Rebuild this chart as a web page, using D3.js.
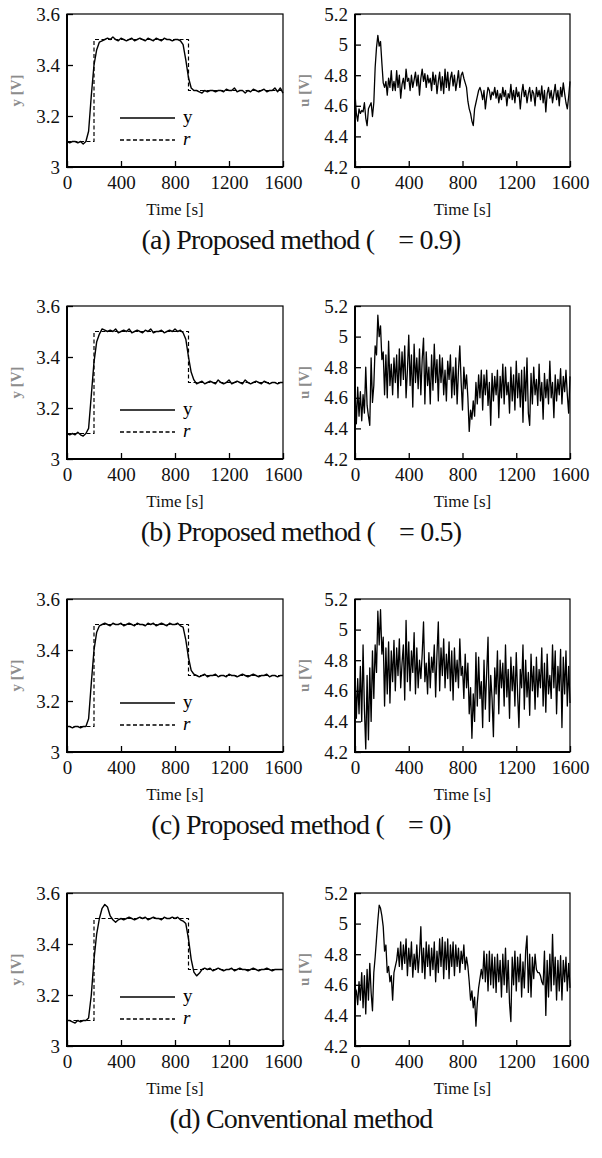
<!DOCTYPE html>
<html>
<head>
<meta charset="utf-8">
<script src="https://cdn.jsdelivr.net/npm/d3@7/dist/d3.min.js"></script>
<style>
    body { margin: 0; background: white; }
    svg { display: block; font-family: "Liberation Serif", "Times New Roman", serif; }
</style>
</head>
<body>
<div id="canvas-div"></div>
<script>
// sample times [s]
const timeY = [0,20,40,60,80,100,120,140,160,180,200,220,240,260,280,300,320,340,360,380,
    400,420,440,460,480,500,520,540,560,580,600,620,640,660,680,700,720,740,760,780,
    800,820,840,860,880,900,920,940,960,980,1000,1020,1040,1060,1080,1100,1120,1140,1160,1180,
    1200,1220,1240,1260,1280,1300,1320,1340,1360,1380,1400,1420,1440,1460,1480,1500,1520,1540,1560,1580,1600];

const timeU = [0,10,20,30,40,50,60,70,80,90,100,110,120,130,140,150,160,170,180,190,
    200,210,220,230,240,250,260,270,280,290,300,310,320,330,340,350,360,370,380,390,
    400,410,420,430,440,450,460,470,480,490,500,510,520,530,540,550,560,570,580,590,
    600,610,620,630,640,650,660,670,680,690,700,710,720,730,740,750,760,770,780,790,
    800,810,820,830,840,850,860,870,880,890,900,910,920,930,940,950,960,970,980,990,
    1000,1010,1020,1030,1040,1050,1060,1070,1080,1090,1100,1110,1120,1130,1140,1150,1160,1170,1180,1190,
    1200,1210,1220,1230,1240,1250,1260,1270,1280,1290,1300,1310,1320,1330,1340,1350,1360,1370,1380,1390,
    1400,1410,1420,1430,1440,1450,1460,1470,1480,1490,1500,1510,1520,1530,1540,1550,1560,1570,1580,1590,1600];

// reference r
const refTime = [0, 200, 200, 900, 900, 1600];
const refValue = [3.1, 3.1, 3.5, 3.5, 3.3, 3.3];

// output y [V]
const yA = [3.10,3.095,3.10,3.10,3.095,3.10,3.09,3.10,3.14,3.28,3.40,3.46,3.49,3.495,3.50,3.505,3.50,3.51,3.50,3.495,
    3.505,3.50,3.495,3.50,3.505,3.495,3.50,3.505,3.50,3.495,3.505,3.50,3.495,3.505,3.50,3.495,3.505,3.50,3.50,3.495,
    3.50,3.50,3.495,3.48,3.42,3.35,3.31,3.30,3.30,3.295,3.29,3.30,3.295,3.30,3.30,3.295,3.30,3.30,3.295,3.305,
    3.30,3.30,3.31,3.295,3.30,3.30,3.29,3.30,3.295,3.305,3.30,3.295,3.30,3.305,3.295,3.30,3.30,3.31,3.295,3.31,3.29];
const yB = [3.10,3.095,3.10,3.095,3.105,3.095,3.09,3.10,3.12,3.25,3.38,3.46,3.49,3.51,3.505,3.50,3.505,3.50,3.51,3.495,
    3.50,3.505,3.50,3.51,3.495,3.50,3.505,3.50,3.495,3.505,3.50,3.51,3.495,3.50,3.50,3.505,3.495,3.50,3.505,3.50,
    3.51,3.50,3.505,3.495,3.47,3.40,3.34,3.31,3.295,3.30,3.305,3.295,3.30,3.305,3.30,3.295,3.31,3.30,3.295,3.30,
    3.31,3.295,3.30,3.305,3.30,3.295,3.31,3.30,3.295,3.30,3.305,3.30,3.295,3.305,3.30,3.295,3.30,3.30,3.295,3.30,3.30];
const yC = [3.10,3.10,3.095,3.10,3.10,3.095,3.10,3.10,3.13,3.27,3.40,3.47,3.495,3.50,3.505,3.50,3.495,3.505,3.50,3.50,
    3.505,3.495,3.50,3.505,3.50,3.495,3.505,3.50,3.50,3.495,3.505,3.50,3.505,3.495,3.50,3.505,3.50,3.495,3.505,3.50,
    3.50,3.505,3.495,3.49,3.44,3.37,3.32,3.305,3.30,3.295,3.30,3.305,3.295,3.30,3.30,3.305,3.295,3.30,3.30,3.295,
    3.305,3.30,3.30,3.295,3.30,3.305,3.30,3.295,3.30,3.305,3.30,3.295,3.30,3.30,3.305,3.295,3.30,3.30,3.295,3.30,3.30];
const yD = [3.10,3.10,3.095,3.09,3.10,3.095,3.10,3.10,3.11,3.20,3.34,3.44,3.50,3.54,3.555,3.545,3.51,3.495,3.485,3.495,
    3.50,3.495,3.50,3.505,3.50,3.495,3.50,3.505,3.50,3.505,3.495,3.50,3.505,3.50,3.50,3.495,3.505,3.50,3.50,3.505,
    3.50,3.505,3.495,3.49,3.48,3.42,3.34,3.29,3.275,3.285,3.30,3.305,3.30,3.305,3.295,3.30,3.305,3.30,3.295,3.30,
    3.30,3.305,3.295,3.30,3.305,3.30,3.30,3.295,3.30,3.305,3.30,3.295,3.30,3.30,3.305,3.30,3.295,3.30,3.30,3.30,3.30];

// input u [V]
const uA = [4.68,4.55,4.50,4.58,4.55,4.57,4.56,4.62,4.52,4.47,4.58,4.60,4.62,4.53,4.62,4.85,4.98,5.06,4.99,5.02,
    4.88,4.75,4.72,4.76,4.67,4.78,4.72,4.83,4.70,4.76,4.70,4.83,4.72,4.80,4.65,4.74,4.78,4.71,4.84,4.76,
    4.78,4.70,4.80,4.72,4.77,4.82,4.73,4.80,4.67,4.78,4.84,4.76,4.81,4.72,4.80,4.75,4.78,4.70,4.82,4.74,
    4.80,4.68,4.76,4.82,4.70,4.79,4.68,4.84,4.72,4.82,4.70,4.78,4.82,4.73,4.80,4.70,4.76,4.83,4.72,4.80,
    4.82,4.78,4.75,4.72,4.63,4.58,4.55,4.50,4.47,4.58,4.62,4.66,4.70,4.72,4.69,4.64,4.70,4.58,4.66,4.72,
    4.70,4.64,4.69,4.67,4.72,4.65,4.70,4.62,4.68,4.64,4.72,4.66,4.70,4.60,4.68,4.65,4.74,4.64,4.70,4.62,
    4.72,4.66,4.69,4.58,4.68,4.74,4.66,4.70,4.62,4.68,4.72,4.63,4.70,4.68,4.60,4.72,4.66,4.70,4.64,4.73,
    4.62,4.70,4.56,4.68,4.72,4.65,4.70,4.62,4.68,4.74,4.64,4.70,4.60,4.72,4.66,4.75,4.68,4.62,4.58,4.66,4.76];
const uB = [4.65,4.43,4.67,4.48,4.64,4.45,4.62,4.50,4.80,4.55,4.48,4.42,4.86,4.57,4.68,4.94,4.88,5.14,5.00,5.07,
    4.85,4.90,4.62,4.88,4.60,4.97,4.68,4.82,4.62,4.86,4.70,4.88,4.60,4.92,4.68,4.90,4.72,4.94,4.60,4.78,
    5.01,4.68,4.88,4.54,4.95,4.70,4.86,4.66,4.92,4.62,4.85,4.99,4.56,4.90,4.68,4.80,4.56,4.88,4.65,4.95,
    4.70,4.85,4.58,4.88,4.70,4.86,4.62,4.78,4.58,4.84,4.72,4.88,4.60,4.80,4.62,4.86,4.56,4.78,4.94,4.70,
    4.52,4.80,4.66,4.75,4.60,4.38,4.52,4.46,4.58,4.48,4.70,4.56,4.75,4.60,4.78,4.52,4.75,4.62,4.78,4.55,
    4.70,4.42,4.76,4.58,4.74,4.62,4.78,4.47,4.74,4.60,4.82,4.56,4.80,4.62,4.70,4.50,4.80,4.58,4.75,4.52,
    4.84,4.60,4.76,4.54,4.78,4.44,4.80,4.58,4.86,4.50,4.42,4.76,4.56,4.80,4.62,4.72,4.55,4.82,4.58,4.70,
    4.46,4.76,4.60,4.72,4.56,4.84,4.60,4.70,4.47,4.75,4.58,4.72,4.62,4.79,4.56,4.74,4.64,4.78,4.62,4.50,4.74];
const uC = [4.72,4.42,4.68,4.45,4.76,4.40,4.90,4.48,4.22,4.70,4.28,4.75,4.40,4.86,4.55,4.90,4.72,5.12,4.90,5.13,
    4.84,4.95,4.50,4.88,4.58,4.92,4.52,4.86,4.66,4.93,4.60,4.88,4.70,4.94,4.62,4.78,4.90,4.54,5.06,4.66,
    4.92,4.60,4.86,4.72,4.98,4.58,4.88,4.62,4.80,4.68,4.84,5.05,4.66,4.78,4.58,4.85,4.62,4.82,4.72,4.90,
    4.56,4.84,5.05,4.60,4.88,4.70,4.94,4.62,4.84,4.68,4.92,4.60,4.86,4.54,4.88,4.66,4.80,4.62,4.94,4.70,
    4.76,4.55,4.84,4.62,4.78,4.45,4.62,4.29,4.58,4.40,4.85,4.50,4.82,4.55,4.66,4.36,4.80,4.48,4.72,4.95,
    4.40,4.70,4.55,4.30,4.75,4.58,4.86,4.45,4.80,4.62,4.78,4.50,4.90,4.56,4.74,4.42,4.82,4.60,4.76,4.50,
    4.85,4.58,4.36,4.74,4.62,4.90,4.48,4.80,4.56,4.72,4.44,4.84,4.60,4.76,4.48,4.82,4.56,4.74,4.62,4.88,
    4.50,4.78,4.46,4.84,4.58,4.70,4.55,4.90,4.62,4.86,4.45,4.76,4.60,4.87,4.36,4.82,4.58,4.86,4.50,4.76,4.52];
const uD = [4.58,4.56,4.47,4.62,4.50,4.68,4.45,4.66,4.41,4.70,4.50,4.74,4.55,4.43,4.68,4.78,4.90,5.02,5.12,5.10,
    5.05,4.98,4.82,4.86,4.68,4.72,4.62,4.66,4.50,4.68,4.72,4.76,4.84,4.72,4.88,4.70,4.86,4.74,4.90,4.66,
    4.84,4.72,4.88,4.65,4.80,4.70,4.86,4.68,4.80,4.98,4.68,4.84,4.64,4.88,4.72,4.86,4.66,4.84,4.70,4.88,
    4.62,4.82,4.68,4.90,4.72,4.91,4.64,4.88,4.70,4.90,4.64,4.86,4.72,4.88,4.66,4.86,4.72,4.84,4.68,4.82,
    4.74,4.86,4.70,4.78,4.72,4.62,4.50,4.56,4.45,4.52,4.33,4.48,4.58,4.64,4.70,4.64,4.82,4.62,4.80,4.56,
    4.82,4.60,4.80,4.58,4.78,4.55,4.80,4.62,4.76,4.52,4.80,4.60,4.84,4.55,4.76,4.48,4.36,4.78,4.60,4.82,
    4.56,4.78,4.62,4.80,4.52,4.75,4.58,4.82,4.92,4.55,4.80,4.52,4.78,4.64,4.80,4.70,4.68,4.68,4.66,4.62,
    4.60,4.82,4.40,4.76,4.52,4.80,4.56,4.93,4.60,4.78,4.50,4.76,4.56,4.79,4.50,4.76,4.62,4.78,4.56,4.74,4.58];

// axis ticks and labels
const timeTicks = [0, 400, 800, 1200, 1600];
const yTicks = [3, 3.2, 3.4, 3.6];
const uTicks = [4.2, 4.4, 4.6, 4.8, 5, 5.2];
const yDomain = [3, 3.6];
const uDomain = [4.2, 5.2];
const captionHeads = ["(a) Proposed method (", "(b) Proposed method (", "(c) Proposed method (", "(d) Conventional method"];
const captionTails = ["= 0.9)", "= 0.5)", "= 0)", ""];
const ySeries = [yA, yB, yC, yD];
const uSeries = [uA, uB, uC, uD];

const svgWidth = 602;
const svgHeight = 1158;
const panelTops = [14, 306, 599, 893];
const panelHeight = 153;
const leftBox = { x0: 67, x1: 283 };
const rightBox = { x0: 355, x1: 570 };
const serif = "Liberation Serif, Times New Roman, serif";

let svg = d3.select("#canvas-div")
    .append("svg")
    .attr("width", svgWidth)
    .attr("height", svgHeight)
    .style("background-color", "white");

function styleTicks(a) {
    a.select(".domain").remove();
    a.selectAll("line").attr("stroke-width", 1.3);
    a.selectAll("text")
        .attr("font-size", 19)
        .attr("font-family", serif)
        .attr("fill", "#111");
}

function drawPanel(top, box, domain, ticks, axisLabel, lines, withLegend) {
    const bottom = top + panelHeight;
    const xScale = d3.scaleLinear().domain([0, 1600]).range([box.x0, box.x1]);
    const yScale = d3.scaleLinear().domain(domain).range([bottom, top]);

    let g = svg.append("g");

    //x and y axis, ticks pointing inside
    const xAxis = d3.axisBottom(xScale)
        .tickValues(timeTicks)
        .tickFormat(d => d)
        .tickSizeInner(-6)
        .tickSizeOuter(0)
        .tickPadding(9);
    g.append("g")
        .attr("transform", "translate(0," + bottom + ")")
        .call(xAxis)
        .call(styleTicks);

    const yAxis = d3.axisLeft(yScale)
        .tickValues(ticks)
        .tickFormat(d => d)
        .tickSizeInner(-6)
        .tickSizeOuter(0)
        .tickPadding(7);
    g.append("g")
        .attr("transform", "translate(" + box.x0 + ",0)")
        .call(yAxis)
        .call(styleTicks);

    //data lines
    lines.forEach(s => {
        const pts = s.time.map((t, i) => [t, s.value[i]]);
        g.append("path")
            .datum(pts)
            .attr("d", d3.line().x(d => xScale(d[0])).y(d => yScale(d[1])))
            .attr("fill", "none")
            .attr("stroke", "black")
            .attr("stroke-width", s.width)
            .attr("stroke-linejoin", "round")
            .attr("stroke-dasharray", s.dash);
    });

    //frame
    g.append("rect")
        .attr("x", box.x0)
        .attr("y", top)
        .attr("width", box.x1 - box.x0)
        .attr("height", panelHeight)
        .attr("fill", "none")
        .attr("stroke", "black")
        .attr("stroke-width", 1.2);
    g.append("path")
        .attr("d", "M" + box.x0 + "," + top + "V" + bottom + "H" + box.x1)
        .attr("fill", "none")
        .attr("stroke", "black")
        .attr("stroke-width", 2);

    //axis titles
    g.append("text")
        .attr("transform", "translate(" + (box.x0 - 46) + "," + (top + panelHeight / 2) + ") rotate(-90)")
        .attr("text-anchor", "middle")
        .attr("font-size", 15)
        .attr("font-weight", "bold")
        .attr("fill", "#8c8c8c")
        .text(axisLabel);

    g.append("text")
        .attr("x", (box.x0 + box.x1) / 2)
        .attr("y", bottom + 48)
        .attr("text-anchor", "middle")
        .attr("font-size", 17)
        .attr("font-weight", "normal")
        .attr("fill", "#111")
        .text("Time [s]");

    //legend
    if (withLegend) {
        const lx = box.x0 + 53;
        const items = [{ name: "y", dash: null, y: top + 104, italic: false },
                       { name: "r", dash: "4,2.5", y: top + 126, italic: true }];
        items.forEach(it => {
            g.append("line")
                .attr("x1", lx).attr("x2", lx + 55)
                .attr("y1", it.y).attr("y2", it.y)
                .attr("stroke", "black")
                .attr("stroke-width", 1.3)
                .attr("stroke-dasharray", it.dash);
            g.append("text")
                .attr("x", lx + 63)
                .attr("y", it.y + 5)
                .attr("font-size", 19)
                .attr("font-style", it.italic ? "italic" : "normal")
                .text(it.name);
        });
    }
}

panelTops.forEach((top, i) => {
    drawPanel(top, leftBox, yDomain, yTicks, "y [V]", [
        { time: refTime, value: refValue, dash: "4,2.5", width: 1.2 },
        { time: timeY, value: ySeries[i], dash: null, width: 1.4 }
    ], true);
    drawPanel(top, rightBox, uDomain, uTicks, "u [V]", [
        { time: timeU, value: uSeries[i], dash: null, width: 1.3 }
    ], false);

    //caption
    let cap = svg.append("text")
        .attr("x", svgWidth / 2)
        .attr("y", top + 235)
        .attr("text-anchor", "middle")
        .attr("font-size", 28)
        .attr("letter-spacing", -0.8)
        .attr("fill", "#111");
    cap.append("tspan").text(captionHeads[i]);
    if (captionTails[i]) {
        cap.append("tspan").attr("dx", 24).text(captionTails[i]);
    }
});
</script>
</body>
</html>
